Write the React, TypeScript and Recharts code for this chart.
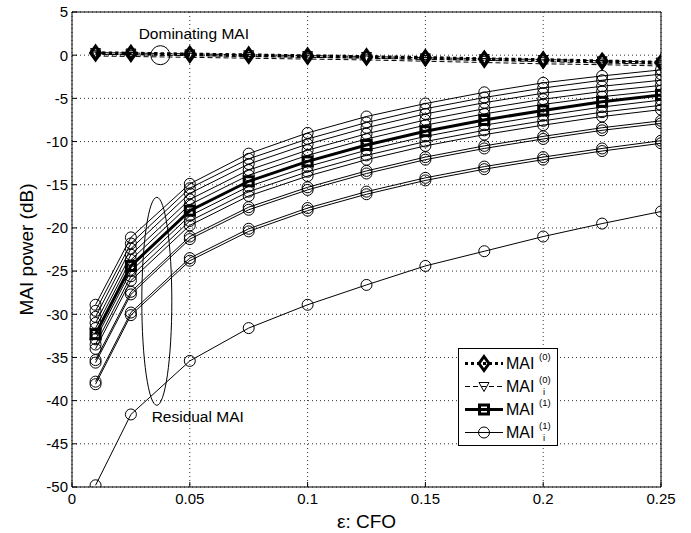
import React from 'react';
import { LineChart, Line, XAxis, YAxis, CartesianGrid, Legend, ReferenceDot } from 'recharts';

const FONT = "'Liberation Sans', Arial, Helvetica, sans-serif";

// CFO values (x)
const cfo = [0.01, 0.025, 0.05, 0.075, 0.1, 0.125, 0.15, 0.175, 0.2, 0.225, 0.25];
const xTicks = [0, 0.05, 0.1, 0.15, 0.2, 0.25];
const yTicks = [-50, -45, -40, -35, -30, -25, -20, -15, -10, -5, 0, 5];

// Dominating MAI (thick dashed, diamonds)
const mai0 = [0.25, 0.2, 0.1, 0.0, -0.1, -0.2, -0.3, -0.45, -0.55, -0.7, -0.85];
// Dominating MAI of individual users (thin dashed, triangles)
const maiI0a = [0.1, 0.05, -0.05, -0.15, -0.25, -0.35, -0.5, -0.6, -0.75, -0.9, -1.05];
const maiI0b = [-0.1, -0.15, -0.25, -0.35, -0.45, -0.55, -0.7, -0.85, -1.0, -1.1, -1.25];
const maiI0c = [0.3, 0.25, 0.15, 0.05, -0.05, -0.15, -0.3, -0.4, -0.5, -0.65, -0.8];

// Residual MAI (thick solid, squares)
const mai1 = [-32.3, -24.4, -18.0, -14.6, -12.3, -10.4, -8.8, -7.5, -6.4, -5.4, -4.6];

// Residual MAI of individual users (thin solid, circles)
const maiI1a = [-28.9, -21.1, -14.9, -11.4, -9.0, -7.1, -5.6, -4.3, -3.2, -2.4, -1.7];
const maiI1b = [-29.6, -21.8, -15.4, -12.0, -9.7, -7.8, -6.2, -4.9, -3.8, -2.9, -2.2];
const maiI1c = [-30.3, -22.4, -16.0, -12.6, -10.3, -8.4, -6.8, -5.5, -4.4, -3.6, -2.9];
const maiI1d = [-31.0, -23.1, -16.7, -13.3, -11.0, -9.1, -7.5, -6.2, -5.1, -4.2, -3.5];
const maiI1e = [-31.6, -23.7, -17.3, -13.9, -11.6, -9.7, -8.1, -6.8, -5.7, -4.8, -4.1];
const maiI1f = [-32.9, -25.0, -18.6, -15.2, -12.9, -11.0, -9.4, -8.1, -7.0, -6.0, -5.2];
const maiI1g = [-33.5, -25.6, -19.2, -15.8, -13.5, -11.6, -10.0, -8.7, -7.6, -6.6, -5.8];
const maiI1h = [-34.0, -26.1, -19.7, -16.3, -14.0, -12.1, -10.5, -9.2, -8.1, -7.1, -6.3];
const maiI1i = [-35.3, -27.4, -21.0, -17.6, -15.3, -13.4, -11.8, -10.5, -9.4, -8.4, -7.6];
const maiI1j = [-35.6, -27.7, -21.3, -17.9, -15.6, -13.7, -12.1, -10.8, -9.7, -8.7, -7.9];
const maiI1k = [-37.8, -29.8, -23.5, -20.1, -17.7, -15.8, -14.2, -12.9, -11.8, -10.8, -9.9];
const maiI1l = [-38.1, -30.1, -23.8, -20.4, -18.0, -16.1, -14.5, -13.2, -12.1, -11.1, -10.2];
const maiI1m = [-49.8, -41.6, -35.4, -31.6, -28.9, -26.6, -24.4, -22.7, -21.0, -19.5, -18.1];

const triSeries = [maiI0a, maiI0b, maiI0c];
const circSeries = [maiI1a, maiI1b, maiI1c, maiI1d, maiI1e, maiI1f, maiI1g, maiI1h, maiI1i, maiI1j, maiI1k, maiI1l, maiI1m];

const data = cfo.map((x, i) => {
  const row: any = { x, d0: mai0[i], s1: mai1[i] };
  triSeries.forEach((s, k) => { row[`t${k}`] = s[i]; });
  circSeries.forEach((s, k) => { row[`c${k}`] = s[i]; });
  return row;
});

const CircleM = ({ cx, cy }: any) => (
  <circle cx={cx} cy={cy} r={5.5} fill="none" stroke="#000" strokeWidth={1} />
);
const SquareM = ({ cx, cy }: any) => (
  <rect x={cx - 4.5} y={cy - 4.5} width={9} height={9} fill="none" stroke="#000" strokeWidth={3} />
);
const DiamondM = ({ cx, cy }: any) => (
  <polygon points={`${cx},${cy - 7} ${cx + 5},${cy} ${cx},${cy + 7} ${cx - 5},${cy}`} fill="none" stroke="#000" strokeWidth={3} />
);
const TriM = ({ cx, cy }: any) => (
  <polygon points={`${cx - 5},${cy - 4} ${cx + 5},${cy - 4} ${cx},${cy + 5}`} fill="none" stroke="#000" strokeWidth={1} />
);

const legendRows = [
  { sup: '(0)', sub: '', dash: '3 3', width: 3, marker: 'diamond' },
  { sup: '(0)', sub: 'i', dash: '5 3', width: 1, marker: 'tri' },
  { sup: '(1)', sub: '', dash: '', width: 3, marker: 'square' },
  { sup: '(1)', sub: 'i', dash: '', width: 1, marker: 'circle' },
];

const LegendBox = () => {
  const W = 100;
  const rowH = 23;
  const H = rowH * 4 + 6;
  return (
    <svg width={W} height={H} style={{ display: 'block' }}>
      <rect x={0.5} y={0.5} width={W - 1} height={H - 1} fill="#fff" stroke="#000" strokeWidth={1} />
      {legendRows.map((r, i) => {
        const cy = 3 + rowH * i + rowH / 2 + 1;
        const mx = 26;
        let m: any = null;
        if (r.marker === 'diamond') m = <DiamondM cx={mx} cy={cy} />;
        if (r.marker === 'tri') m = <TriM cx={mx} cy={cy} />;
        if (r.marker === 'square') m = <SquareM cx={mx} cy={cy} />;
        if (r.marker === 'circle') m = <CircleM cx={mx} cy={cy} />;
        return (
          <g key={i}>
            <line x1={7} x2={45} y1={cy} y2={cy} stroke="#000" strokeWidth={r.width} strokeDasharray={r.dash || undefined} />
            {m}
            <text x={48} y={cy + 5.5} fontFamily={FONT} fontSize={16} fill="#000">MAI</text>
            <text x={81} y={cy - 4} fontFamily={FONT} fontSize={9.5} fill="#000">{r.sup}</text>
            {r.sub ? <text x={85} y={cy + 8} fontFamily={FONT} fontSize={9.5} fill="#000">{r.sub}</text> : null}
          </g>
        );
      })}
    </svg>
  );
};

const YLabel = (props: any) => {
  const vb = props.viewBox || {};
  const cx = vb.x + 26;
  const cy = vb.y + vb.height / 2;
  return (
    <text x={cx} y={cy} transform={`rotate(-90 ${cx} ${cy})`} textAnchor="middle" dominantBaseline="central" fontFamily={FONT} fontSize={19} fill="#000">
      MAI power (dB)
    </text>
  );
};

const XLabel = (props: any) => {
  const vb = props.viewBox || {};
  const cx = vb.x + vb.width / 2;
  const cy = vb.y + 34;
  return (
    <text x={cx} y={cy} textAnchor="middle" dominantBaseline="central" fontFamily={FONT} fontSize={19} fill="#000">
      ε: CFO
    </text>
  );
};

const tickStyle = { fontFamily: FONT, fontSize: 15, fill: '#000' };

export default function App() {
  return (
    <div style={{ position: 'absolute', left: 0, top: 0, background: '#fff' }}>
      <LineChart width={691} height={533} data={data} margin={{ top: 11, right: 29, bottom: 0, left: 0 }}>
        <CartesianGrid xAxisId="b" yAxisId="l" stroke="#333" strokeDasharray="1 3" strokeWidth={1} />
        <XAxis
          xAxisId="b"
          dataKey="x"
          type="number"
          domain={[0, 0.25]}
          ticks={xTicks}
          height={46}
          stroke="#000"
          tickSize={-5}
          tickMargin={11}
          tick={tickStyle}
          label={<XLabel />}
          allowDataOverflow
        />
        <XAxis
          xAxisId="t"
          orientation="top"
          dataKey="x"
          type="number"
          domain={[0, 0.25]}
          ticks={xTicks}
          height={1}
          stroke="#000"
          tickSize={-5}
          tick={false}
          allowDataOverflow
        />
        <YAxis
          yAxisId="l"
          type="number"
          domain={[-50, 5]}
          ticks={yTicks}
          width={72}
          stroke="#000"
          tickSize={-5}
          tickMargin={9}
          tick={tickStyle}
          label={<YLabel />}
          allowDataOverflow
        />
        <YAxis
          yAxisId="r"
          orientation="right"
          type="number"
          domain={[-50, 5]}
          ticks={yTicks}
          width={1}
          stroke="#000"
          tickSize={-5}
          tick={false}
          allowDataOverflow
        />
        {triSeries.map((_, k) => (
          <Line
            key={`t${k}`}
            xAxisId="b"
            yAxisId="l"
            dataKey={`t${k}`}
            stroke="#000"
            strokeWidth={1}
            strokeDasharray="5 3"
            dot={(p: any) => <TriM key={`tm${k}-${p.index}`} cx={p.cx} cy={p.cy} />}
            activeDot={false}
            isAnimationActive={false}
          />
        ))}
        <Line
          xAxisId="b"
          yAxisId="l"
          dataKey="d0"
          stroke="#000"
          strokeWidth={3.5}
          strokeDasharray="3.5 3"
          dot={(p: any) => <DiamondM key={`dm-${p.index}`} cx={p.cx} cy={p.cy} />}
          activeDot={false}
          isAnimationActive={false}
        />
        {circSeries.map((_, k) => (
          <Line
            key={`c${k}`}
            xAxisId="b"
            yAxisId="l"
            dataKey={`c${k}`}
            stroke="#000"
            strokeWidth={1}
            dot={(p: any) => <CircleM key={`cm${k}-${p.index}`} cx={p.cx} cy={p.cy} />}
            activeDot={false}
            isAnimationActive={false}
          />
        ))}
        <Line
          xAxisId="b"
          yAxisId="l"
          dataKey="s1"
          stroke="#000"
          strokeWidth={3}
          dot={(p: any) => <SquareM key={`sm-${p.index}`} cx={p.cx} cy={p.cy} />}
          activeDot={false}
          isAnimationActive={false}
        />
        <ReferenceDot xAxisId="b" yAxisId="l" x={0.0375} y={0} r={9.5} fill="none" stroke="#000" strokeWidth={1} />
        <ReferenceDot
          xAxisId="b"
          yAxisId="l"
          x={0.036}
          y={-28.5}
          r={1}
          shape={(p: any) => <ellipse cx={p.cx} cy={p.cy} rx={15} ry={104} fill="none" stroke="#000" strokeWidth={1} />}
        />
        <ReferenceDot
          xAxisId="b"
          yAxisId="l"
          x={0.0283}
          y={2.5}
          r={1}
          shape={(p: any) => (
            <text x={p.cx} y={p.cy} dominantBaseline="central" fontFamily={FONT} fontSize={15.5} fill="#000">Dominating MAI</text>
          )}
        />
        <ReferenceDot
          xAxisId="b"
          yAxisId="l"
          x={0.0338}
          y={-41.8}
          r={1}
          shape={(p: any) => (
            <text x={p.cx} y={p.cy} dominantBaseline="central" fontFamily={FONT} fontSize={15.5} fill="#000">Residual MAI</text>
          )}
        />
        <Legend
          layout="vertical"
          align="center"
          verticalAlign="middle"
          wrapperStyle={{ left: 458, top: 348, width: 100 }}
          content={() => <LegendBox />}
        />
      </LineChart>
    </div>
  );
}
